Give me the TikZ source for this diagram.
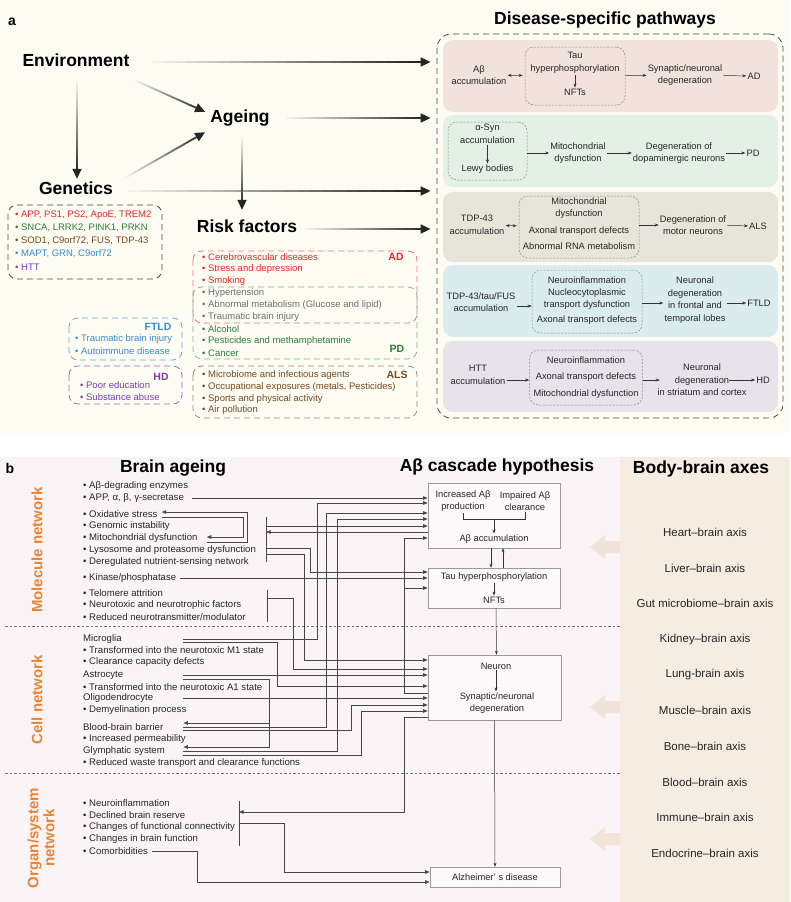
\documentclass[tikz,border=0pt]{standalone}
\usepackage{fontspec}
\setmainfont{Liberation Sans}
\usetikzlibrary{arrows.meta, calc, positioning}

\definecolor{bga}{RGB}{252,252,243}
\definecolor{bgb}{RGB}{251,244,246}
\definecolor{bgaxes}{RGB}{246,236,226}
\definecolor{adred}{RGB}{232,38,44}
\definecolor{pdgreen}{RGB}{46,125,62}
\definecolor{alsbrown}{RGB}{118,74,34}
\definecolor{ftldblue}{RGB}{58,138,208}
\definecolor{hdpurple}{RGB}{118,62,178}
\definecolor{riskgray}{RGB}{112,112,112}
\definecolor{netorange}{RGB}{234,132,52}
\definecolor{adfill}{RGB}{242,226,220}
\definecolor{pdfill}{RGB}{226,240,230}
\definecolor{alsfill}{RGB}{231,229,218}
\definecolor{ftfill}{RGB}{219,236,238}
\definecolor{hdfill}{RGB}{232,226,234}
\definecolor{palearrow}{RGB}{243,228,217}
\definecolor{boxfill}{RGB}{253,249,250}

\tikzset{
  title/.style={font=\fontsize{17.5}{20}\selectfont\bfseries, inner sep=1pt, text height=12.5pt, text depth=3.5pt},
  panel/.style={font=\fontsize{14}{16}\selectfont\bfseries, inner sep=0pt},
  litem/.style={anchor=west, inner sep=1pt, font=\fontsize{9.5}{11}\selectfont},
  rtag/.style={font=\fontsize{10.5}{12}\selectfont\bfseries, inner sep=0pt},
  gbox/.style={draw=#1, dash pattern=on 6pt off 4pt, line width=0.8pt, rounded corners=9pt},
  pathrow/.style={fill=#1, rounded corners=10pt, minimum width=335, inner sep=0pt},
  inbox/.style={draw=black!45, dash pattern=on 2pt off 1.5pt, rounded corners=9pt, inner sep=0pt, line width=0.5pt},
  ptext/.style={align=center, inner sep=1pt, font=\fontsize{9.3}{12.5}\selectfont, text=black!85},
  parr/.style={-{Stealth[length=4pt,width=3pt]}, line width=0.5pt, black!80},
  pdarr/.style={{Stealth[length=4pt,width=3pt]}-{Stealth[length=4pt,width=3pt]}, line width=0.5pt, black!80},
  bitem/.style={anchor=west, inner sep=1pt, font=\fontsize{9.6}{11}\selectfont, text=black!85},
  chead/.style={bitem, text width=99pt},
  ctext/.style={align=center, inner sep=1pt, font=\fontsize{9.3}{12}\selectfont, text=black!85},
  netlabel/.style={rotate=90, align=center, text=netorange, font=\fontsize{15}{16}\selectfont\bfseries},
  cbox/.style={draw=black!40, fill=boxfill, line width=0.6pt, inner sep=0pt},
  wire/.style={draw=black!72, line width=0.7pt},
  wtip/.style={-{Triangle[length=4.5pt,width=3.5pt]}},
  axisname/.style={font=\fontsize{11.5}{13}\selectfont, text=black!85},
  sepline/.style={draw=black!55, dash pattern=on 2.5pt off 2pt, line width=0.6pt}
}

% fading arrow of panel a, light at its start and dark at its tip
\newcommand{\fadearrow}[2]{%
  \foreach \k in {0,...,23}{%
    \pgfmathsetmacro{\fadeval}{5+3.5*\k}%
    \draw[line width=1.8pt, black!\fadeval] ($(#1)!\k/25!(#2)$) -- ($(#1)!\k/25+0.042!(#2)$);
  }%
  \draw[line width=1.8pt, black!85, -{Triangle[length=10pt,width=9pt]}] ($(#1)!0.96!(#2)$) -- (#2);
}

\begin{document}
\begin{tikzpicture}[x=1pt,y=-1pt]
\useasboundingbox (0,0) rectangle (790,902);
\fill[bga] (0,0) rectangle (790,433);
\fill[bgb] (0,457) rectangle (620,902);
\fill[bgaxes] (620,457) rectangle (790,902);

% ---------------- panel a
\node[panel] (la) at (12,22) {a};
\node[title] (env) at (76,62) {Environment};
\node[title] (age) at (240,118) {Ageing};
\node[title] (gen) at (76,190) {Genetics};
\node[title] (risk) at (247,228) {Risk factors};
\node[title] (dsp) at (605,20) {Disease-specific pathways};

\node[draw=black!70, dash pattern=on 6pt off 4pt, line width=0.8pt, rounded corners=14pt,
      minimum width=346, minimum height=384] (pathbox) at (610,226) {};

% AD
\node[pathrow=adfill, minimum height=72] (adrow) at (610.5,76) {};
\node[inbox, minimum width=100, minimum height=58] (adin) at (575,76) {};
\node[ptext] (adab) at (479,75) {Aβ\\accumulation};
\node[ptext] (adtau) at (575,63) {Tau\\hyperphosphorylation};
\node[ptext] (adnft) at (575,92) {NFTs};
\node[ptext] (adsyn) at (685,75) {Synaptic/neuronal\\degeneration};
\node[ptext] (adend) at (754,76) {AD};
\draw[pdarr, shorten >=2pt] (adab) -- (adin);
\draw[parr] (adtau) -- (adnft);
\draw[parr] (adin) -- (adsyn);
\draw[parr] (adsyn) -- (adend);

% PD
\node[pathrow=pdfill, minimum height=72] (pdrow) at (610.5,151) {};
\node[inbox, minimum width=79, minimum height=58] (pdin) at (487.5,151) {};
\node[ptext] (pdsyn) at (487.5,134) {α-Syn\\accumulation};
\node[ptext] (pdlewy) at (487.5,169) {Lewy bodies};
\node[ptext] (pdmito) at (578,153) {Mitochondrial\\dysfunction};
\node[ptext] (pddeg) at (679,153) {Degeneration of\\dopaminergic neurons};
\node[ptext] (pdend) at (753,153) {PD};
\draw[parr] (pdsyn) -- (pdlewy);
\draw[parr] (pdin.east |- pdmito) -- (pdmito);
\draw[parr] (pdmito) -- (pddeg);
\draw[parr] (pddeg) -- (pdend);

% ALS
\node[pathrow=alsfill, minimum height=70] (alsrow) at (610.5,227) {};
\node[inbox, minimum width=120, minimum height=62] (alsin) at (579,227) {};
\node[ptext] (alstdp) at (477,225) {TDP-43\\accumulation};
\node[ptext] (alsmito) at (579,208) {Mitochondrial\\dysfunction};
\node[ptext] (alsaxon) at (579,231) {Axonal transport defects};
\node[ptext] (alsrna) at (579,246) {Abnormal RNA metabolism};
\node[ptext] (alsdeg) at (693,225) {Degeneration of\\motor neurons};
\node[ptext] (alsend) at (758,226) {ALS};
\draw[pdarr, shorten >=2pt] (alstdp) -- (alsin);
\draw[parr] (alsin.east |- alsdeg) -- (alsdeg);
\draw[parr] (alsdeg) -- (alsend);

% FTLD
\node[pathrow=ftfill, minimum height=72] (ftrow) at (610.5,301) {};
\node[inbox, minimum width=110, minimum height=63] (ftin) at (587,301.5) {};
\node[ptext] (ftacc) at (481,302) {TDP-43/tau/FUS\\accumulation};
\node[ptext] (ftneuro) at (587,280) {Neuroinflammation};
\node[ptext] (ftnuc) at (587,299) {Nucleocytoplasmic\\transport dysfunction};
\node[ptext] (ftaxon) at (587,320) {Axonal transport defects};
\node[ptext] (ftdeg) at (695,300) {Neuronal\\degeneration\\in frontal and\\temporal lobes};
\node[ptext] (ftend) at (759,303) {FTLD};
\draw[parr] ([yshift=-4pt]ftacc.east) -- ([yshift=-4pt]ftacc.east -| ftin.west);
\draw[parr] (ftin.east |- ftend) -- (ftdeg.west |- ftend);
\draw[parr] (ftdeg.east |- ftend) -- (ftend);

% HD
\node[pathrow=hdfill, minimum height=71] (hdrow) at (610.5,376.5) {};
\node[inbox, minimum width=113, minimum height=55] (hdin) at (586,377.5) {};
\node[ptext] (hdhtt) at (478,375) {HTT\\accumulation};
\node[ptext] (hdneuro) at (586,360) {Neuroinflammation};
\node[ptext] (hdaxon) at (586,377) {Axonal transport defects};
\node[ptext] (hdmito) at (586,394) {Mitochondrial dysfunction};
\node[ptext] (hddeg) at (702,380) {Neuronal\\degeneration\\in striatum and cortex};
\node[ptext] (hdend) at (763,380) {HD};
\draw[parr] ([yshift=-5pt]hdhtt.east) -- ([yshift=-5pt]hdhtt.east -| hdin.west);
\draw[parr] (hdin.east |- hdend) -- ++(17,0);
\draw[parr] ([xshift=-19pt]hddeg.east) -- (hdend);

% fading arrows
\coordinate (envS) at ($(env.south)+(1,10)$);
\coordinate (genN) at ($(gen.north)+(1,-2)$);
\coordinate (envSE) at ($(env.south east)+(4,9)$);
\coordinate (ageW1) at ($(age.north west)+(-4,3)$);
\coordinate (genNE) at ($(gen.north east)+(11,-3)$);
\coordinate (ageW2) at ($(age.south west)+(-4,5)$);
\coordinate (ageS) at ($(age.south)+(2,10)$);
\coordinate (riskN) at ($(risk.north)+(-5,-9)$);
\coordinate (envE) at ($(env.east)+(22,0)$);
\coordinate (ageE) at ($(age.east)+(15,0)$);
\coordinate (genE) at ($(gen.east)+(14,1)$);
\coordinate (riskE) at ($(risk.east)+(7,1)$);
\coordinate (pwenv) at ($(pathbox.west |- envE)+(-6,0)$);
\coordinate (pwage) at ($(pathbox.west |- ageE)+(-6,0)$);
\coordinate (pwgen) at ($(pathbox.west |- genE)+(-6,0)$);
\coordinate (pwrisk) at ($(pathbox.west |- riskE)+(-6,0)$);
\fadearrow{envE}{pwenv}
\fadearrow{ageE}{pwage}
\fadearrow{genE}{pwgen}
\fadearrow{riskE}{pwrisk}
\fadearrow{envS}{genN}
\fadearrow{envSE}{ageW1}
\fadearrow{genNE}{ageW2}
\fadearrow{ageS}{riskN}

% genetics
\draw[gbox=black!70] (8,205) rectangle (162,279);
\foreach \txt/\col/\yy [count=\i] in {{APP, PS1, PS2, ApoE, TREM2}/adred/215,
    {SNCA, LRRK2, PINK1, PRKN}/pdgreen/228, {SOD1, C9orf72, FUS, TDP-43}/alsbrown/241,
    {MAPT, GRN, C9orf72}/ftldblue/254, HTT/hdpurple/267}
  \node[litem, text=\col] (gene\i) at (14,\yy) {\textbullet\ \txt};

% risk factors
\draw[gbox=adred!65] (193,251) rectangle (417,323);
\draw[gbox=pdgreen!55] (193,287) rectangle (417,359);
\draw[gbox=alsbrown!65] (193,366) rectangle (417,418);
\draw[gbox=ftldblue!75] (69,318) rectangle (182,360);
\draw[gbox=hdpurple!75] (69,366) rectangle (182,404);
\foreach \txt/\col/\yy [count=\i] in {Cerebrovascular diseases/adred/257,
    Stress and depression/adred/269, Smoking/adred/281, Hypertension/riskgray/293,
    Abnormal metabolism (Glucose and lipid)/riskgray/305, Traumatic brain injury/riskgray/317,
    Alcohol/pdgreen/329, Pesticides and methamphetamine/pdgreen/341, Cancer/pdgreen/353,
    Microbiome and infectious agents/alsbrown/375,
    {Occupational exposures (metals, Pesticides)}/alsbrown/387,
    Sports and physical activity/alsbrown/399, Air pollution/alsbrown/410}
  \node[litem, text=\col] (risk\i) at (201,\yy) {\textbullet\ \txt};
\node[rtag, text=adred] (tagad) at (396,257) {AD};
\node[rtag, text=pdgreen] (tagpd) at (397,349) {PD};
\node[rtag, text=alsbrown] (tagals) at (397,375) {ALS};
\node[rtag, text=ftldblue] (tagftld) at (158,327) {FTLD};
\node[rtag, text=hdpurple] (taghd) at (161,377) {HD};
\node[litem, text=ftldblue] (ftldr1) at (74,339) {\textbullet\ Traumatic brain injury};
\node[litem, text=ftldblue] (ftldr2) at (74,351) {\textbullet\ Autoimmune disease};
\node[litem, text=hdpurple] (hdr1) at (79,385) {\textbullet\ Poor education};
\node[litem, text=hdpurple] (hdr2) at (79,397) {\textbullet\ Substance abuse};

% ---------------- panel b
\node[panel] (lb) at (10,468) {b};
\node[title] (brainage) at (173,468) {Brain ageing};
\node[title] (abcas) at (497,467) {Aβ cascade hypothesis};
\node[title] (bba) at (701,469) {Body-brain axes};

\node[netlabel] (molnet) at (37,550) {Molecule network};
\node[netlabel] (cellnet) at (37,700) {Cell network};
\node[netlabel] (orgnet) at (41,838) {Organ/system\\network};
\draw[sepline] (5,626) -- (620,626);
\draw[sepline] (5,773) -- (620,773);

% body-brain axes
\foreach \ax [count=\i] in {Heart–brain axis, Liver–brain axis, Gut microbiome–brain axis,
    Kidney–brain axis, Lung-brain axis, Muscle–brain axis, Bone–brain axis,
    Blood–brain axis, Immune–brain axis, Endocrine–brain axis}
  \node[axisname] (axis\i) at (705,496.5+35.7*\i) {\ax};
\foreach \yy in {547,707,839}
  \fill[palearrow] (620,\yy-6) -- (605,\yy-6) -- (605,\yy-12) -- (590,\yy)
    -- (605,\yy+12) -- (605,\yy+6) -- (620,\yy+6) -- cycle;

% molecule network
\node[bitem] (abdeg) at (82,486) {\textbullet\ Aβ-degrading enzymes};
\node[bitem] (app) at (82,498) {\textbullet\ APP, α, β, γ-secretase};
\node[bitem] (oxi) at (82,514) {\textbullet\ Oxidative stress};
\node[bitem] (geno) at (82,526) {\textbullet\ Genomic instability};
\node[bitem] (mito) at (82,538) {\textbullet\ Mitochondrial dysfunction};
\node[bitem] (lyso) at (82,550) {\textbullet\ Lysosome and proteasome dysfunction};
\node[bitem] (dereg) at (82,562) {\textbullet\ Deregulated nutrient-sensing network};
\node[bitem] (kin) at (82,578) {\textbullet\ Kinase/phosphatase};
\node[bitem] (telo) at (82,593) {\textbullet\ Telomere attrition};
\node[bitem] (ntox) at (82,605) {\textbullet\ Neurotoxic and neurotrophic factors};
\node[bitem] (ntrans) at (82,617) {\textbullet\ Reduced neurotransmitter/modulator};

% cell network
\node[chead] (micro) at (82,639) {Microglia};
\node[bitem] (m1) at (82,650) {\textbullet\ Transformed into the neurotoxic M1 state};
\node[bitem] (clear) at (82,662) {\textbullet\ Clearance capacity defects};
\node[chead] (astro) at (82,675) {Astrocyte};
\node[bitem] (a1) at (82,687) {\textbullet\ Transformed into the neurotoxic A1 state};
\node[chead] (oligo) at (82,698) {Oligodendrocyte};
\node[bitem] (demy) at (82,710) {\textbullet\ Demyelination process};
\node[chead] (bbb) at (82,727) {Blood-brain barrier};
\node[bitem] (perm) at (82,739) {\textbullet\ Increased permeability};
\node[chead] (glym) at (82,751) {Glymphatic system};
\node[bitem] (waste) at (82,763) {\textbullet\ Reduced waste transport and clearance functions};

% organ/system network
\node[bitem] (ninfl) at (82,803) {\textbullet\ Neuroinflammation};
\node[bitem] (reserve) at (82,815) {\textbullet\ Declined brain reserve};
\node[bitem] (fconn) at (82,827) {\textbullet\ Changes of functional connectivity};
\node[bitem] (bfunc) at (82,839) {\textbullet\ Changes in brain function};
\node[bitem] (comor) at (82,851) {\textbullet\ Comorbidities};

% cascade boxes
\node[cbox, minimum width=132, minimum height=65] (abbox) at (494,515.5) {};
\node[cbox, minimum width=132, minimum height=40] (taubox) at (494,588) {};
\node[cbox, minimum width=133, minimum height=65] (neubox) at (494.5,687.5) {};
\node[cbox, minimum width=130, minimum height=20, font=\fontsize{9.3}{12}\selectfont,
      text=black!85] (adbox) at (495,877) {Alzheimer’ s disease};
\node[ctext] (incr) at (463,501) {Increased Aβ\\production};
\node[ctext] (impair) at (525,501) {Impaired Aβ\\clearance};
\node[ctext] (abacc) at (494,539) {Aβ accumulation};
\draw[parr, -] (incr.south) -- ++(0,7) -| (impair.south);
\draw[parr] ($(incr.south)!0.5!(impair.south)+(0,7)$) -- (abacc.north);
\node[ctext] (tauhyp) at (494,577) {Tau hyperphosphorylation};
\node[ctext] (nfts) at (494,600) {NFTs};
\draw[parr] (tauhyp) -- (nfts);
\node[ctext] (neuron) at (496,666) {Neuron};
\node[ctext] (synap) at (497,703) {Synaptic/neuronal\\degeneration};
\draw[parr] (neuron.south) -- (neuron.south |- synap.north);
\draw[parr] ([xshift=-3pt]abbox.south) -- ([xshift=-3pt]taubox.north);
\draw[parr] ([xshift=9pt]taubox.north) -- ([xshift=9pt]abbox.south);
\draw[parr] ([xshift=2pt]taubox.south) -- ([xshift=2pt]neubox.north);
\draw[parr] (neubox.south) -- (adbox.north);

% brackets
\coordinate (moltop) at (266,517);
\coordinate (molbot) at (266,562);
\coordinate (teltop) at (267,590);
\coordinate (telbot) at (267,622);
\coordinate (orgtop) at (239,801);
\coordinate (orgbot) at (239,846);
\draw[wire] (moltop) -- (molbot);
\draw[wire] (teltop) -- (telbot);
\draw[wire] (orgtop) -- (orgbot);

% wires
\draw[wire, wtip] ([xshift=7pt]app.east) -- (app.east -| abbox.west);
\draw[wire, wtip] ([shift={(8pt,-4pt)}]mito.east) -| (247,512) -- ([shift={(3pt,2pt)}]oxi.east);
\draw[wire, wtip] ([shift={(3pt,-3pt)}]oxi.east) -| (243,537) -- ([shift={(8pt,1pt)}]mito.east);
\draw[wire, wtip] (moltop |- 0,526) -- (abbox.west |- 0,526);
\draw[wire, wtip] (abbox.west |- 0,532) -- (moltop |- 0,532);
\draw[wire, wtip] (moltop |- 0,548) -| (310,572) -- (taubox.west |- 0,572);
\draw[wire, wtip] (moltop |- 0,554) -| (304,660) -- (neubox.west |- 0,660);
\draw[wire, wtip] ([xshift=3pt]kin.east) -- (kin.east -| taubox.west);
\draw[wire, wtip] (teltop |- 0,598) -| (293,669) -- (neubox.west |- 0,669);
\draw[wire, wtip] (micro.east) -| (317,503) -- (abbox.west |- 0,503);
\draw[wire, wtip] ([yshift=-3.5pt]micro.east) -| (277,686) -- (neubox.west |- 0,686);
\draw[wire, wtip] (astro.east) -- (astro.east -| neubox.west);
\draw[wire, wtip] ([yshift=-4pt]astro.east) -| (269,747) -- ([yshift=4pt]glym.east);
\draw[wire, wtip] (269,723) -- ([yshift=4pt]bbb.east);
\draw[wire, wtip] (oligo.east) -- (oligo.east -| neubox.west);
\draw[wire, wtip] (bbb.east) -| (326,513) -- (abbox.west |- 0,513);
\draw[wire, wtip] ([yshift=-3pt]bbb.east) -| (351,705) -- (neubox.west |- 0,705);
\draw[wire, wtip] (glym.east) -| (337,519) -- (abbox.west |- 0,519);
\draw[wire, wtip] ([yshift=-4pt]glym.east) -| (361,711) -- (neubox.west |- 0,711);
\draw[wire, wtip] (neubox.west |- 0,693) -| (404,538) -- (abbox.west |- 0,538);
\draw[wire, wtip] (404,588) -- (taubox.west |- 0,588);
\draw[wire, wtip] (neubox.west |- 0,717) -| (404,812) -- (orgtop |- 0,812);
\draw[wire, wtip] (orgtop |- 0,823) -| (284,872) -- (adbox.west |- 0,872);
\draw[wire, wtip] ([xshift=3pt]comor.east) -| (197,882) -- (adbox.west |- 0,882);
\end{tikzpicture}
\end{document}
